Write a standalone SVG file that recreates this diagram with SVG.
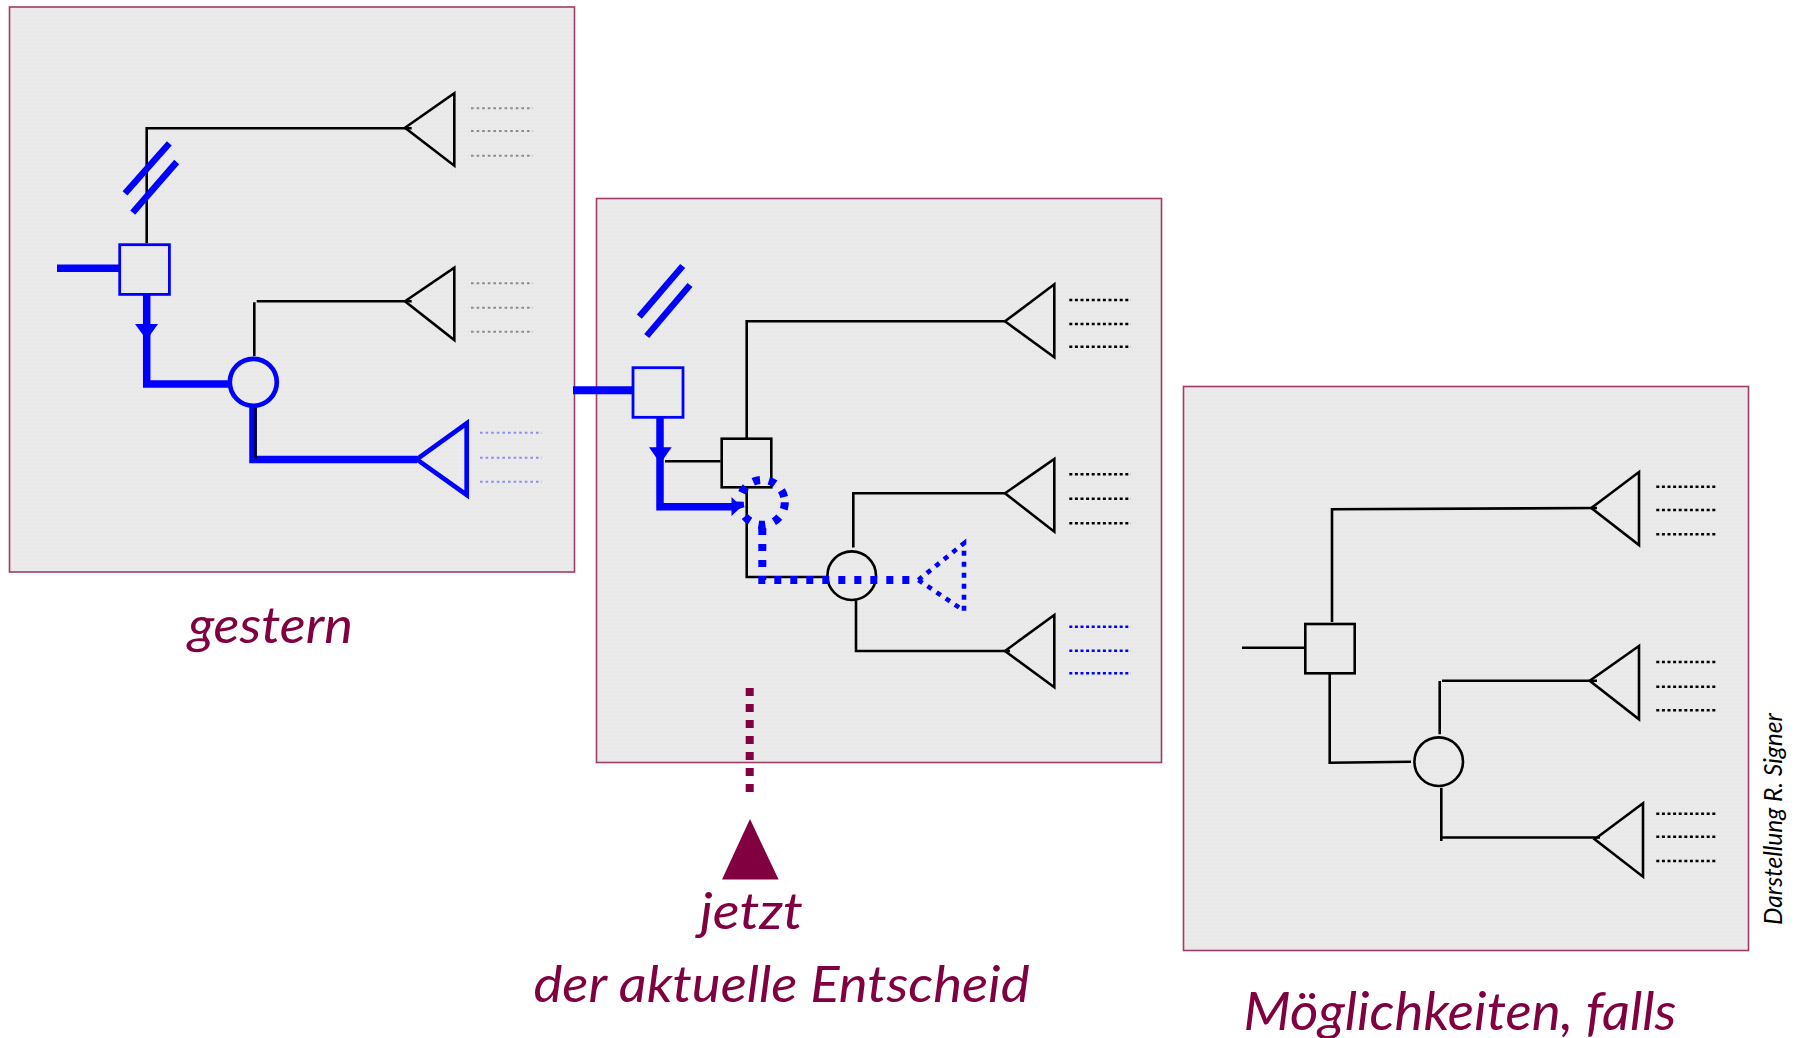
<svg xmlns="http://www.w3.org/2000/svg" width="1796" height="1038" viewBox="0 0 1796 1038">
<defs>
<pattern id="bg" width="4" height="4" patternUnits="userSpaceOnUse">
<rect width="4" height="4" fill="#e9e9e9"/>
<rect x="1" y="1" width="1" height="1" fill="#f2f2f2"/>
</pattern>
</defs>
<style>
.panel{fill:url(#bg);stroke:#a03c68;stroke-width:1.6}
.ln{fill:none;stroke:#000;stroke-width:2.6}
.tri{fill:none;stroke:#000;stroke-width:2.6;stroke-linejoin:miter}
.blk{fill:none;stroke:#000;stroke-width:2.6}
.bl{fill:none;stroke:#0000ff;stroke-width:7.5;stroke-linejoin:miter}
.blthin{fill:none;stroke:#0000ff;stroke-width:2.8}
.slash{stroke:#0000ff;stroke-width:6.5}
.dotg{stroke:#8a8a8a;stroke-width:2;stroke-dasharray:2.6 3}
.dotlb{stroke:#8c8cf0;stroke-width:2;stroke-dasharray:2.6 3}
.dotk{stroke:#000;stroke-width:2.6;stroke-dasharray:3 2.6}
.dotb{stroke:#0000ff;stroke-width:2.6;stroke-dasharray:3 2.6}
.bdash{fill:none;stroke:#0000ff;stroke-width:8;stroke-dasharray:7 9}
.bdash2{fill:none;stroke:#0000ff;stroke-width:4.6;stroke-dasharray:5 6}
.lbl{font-family:Lato,"Open Sans",sans-serif;font-style:italic;fill:#800040}
</style>

<!-- Panel 1: gestern -->
<g id="panel-gestern">
<rect class="panel" x="9.5" y="7" width="565" height="565"/>
<path class="ln" d="M146.7,243.3 V128.3 H411.7"/>
<path class="ln" d="M254.3,356 V302.3 M256.7,301.3 H411.7"/>
<polygon class="tri" points="405,127.7 454.3,93.3 454.3,165.7"/>
<polygon class="tri" points="405,301.3 454.3,267.7 454.3,340"/>
<g id="slash1">
<line class="slash" x1="125" y1="193.3" x2="169.3" y2="143.3"/>
<line class="slash" x1="132.7" y1="212.7" x2="176.7" y2="162"/>
</g>
<line class="bl" x1="57" y1="268.3" x2="120" y2="268.3"/>
<rect id="p1-decision" class="blthin" x="119.7" y="244.7" width="49.7" height="49.7"/>
<path class="bl" d="M146.7,294.4 V384 H230"/>
<polygon fill="#0000ff" points="135,324 158,324 146.6,340"/>
<circle id="p1-chance" cx="253.3" cy="382.3" r="23.5" fill="none" stroke="#0000ff" stroke-width="4.7"/>
<path class="bl" d="M253,406 V459.5 H417"/>
<line x1="255.6" y1="408" x2="255.6" y2="459" stroke="#000" stroke-width="2.4"/>
<polygon id="p1-end" fill="none" stroke="#0000ff" stroke-width="4.7" points="416.7,459.3 466.7,423.3 466.7,495"/>
<line class="dotg" x1="471" y1="108.3" x2="533" y2="108.3"/>
<line class="dotg" x1="471" y1="131" x2="533" y2="131"/>
<line class="dotg" x1="471" y1="155.7" x2="533" y2="155.7"/>
<line class="dotg" x1="471" y1="283.3" x2="533" y2="283.3"/>
<line class="dotg" x1="471" y1="307.7" x2="533" y2="307.7"/>
<line class="dotg" x1="471" y1="331.7" x2="533" y2="331.7"/>
<line class="dotlb" x1="480" y1="432.7" x2="542" y2="432.7"/>
<line class="dotlb" x1="480" y1="457.7" x2="542" y2="457.7"/>
<line class="dotlb" x1="480" y1="481.7" x2="542" y2="481.7"/>
</g>

<!-- Panel 2: jetzt -->
<g id="panel-jetzt">
<rect class="panel" x="596.5" y="198.5" width="565" height="564"/>
<g id="slash2">
<line class="slash" x1="639.3" y1="316.7" x2="682.7" y2="266"/>
<line class="slash" x1="646.7" y1="336" x2="690" y2="285"/>
</g>
<rect id="p2-decision-blue" class="blthin" x="633" y="367.7" width="50" height="49.6"/>
<path class="ln" d="M746.7,439 V321.3 H1005"/>
<line class="ln" x1="665" y1="461.3" x2="720.5" y2="461.3"/>
<rect id="p2-decision" class="blk" x="721.7" y="438.7" width="49.6" height="48.6"/>
<path class="ln" d="M746.7,487.3 V577 H827.5"/>
<circle id="p2-chance" class="blk" cx="851.7" cy="575.7" r="24.3"/>
<path class="ln" d="M853.3,547.5 V493.3 H1005"/>
<path class="ln" d="M856,600.5 V651 H1010"/>
<polygon class="tri" points="1005,321.3 1054.3,284.3 1054.3,357.3"/>
<polygon class="tri" points="1005,493.3 1054.3,459 1054.3,531.7"/>
<polygon class="tri" points="1005,651 1054.3,615 1054.3,687.3"/>
<path class="bl" d="M660,417.3 V506.7 H733"/>
<polygon fill="#0000ff" points="649,447.3 671.7,447.3 660.3,463.5"/>
<polygon fill="#0000ff" points="731.5,497 741.5,506.7 731.5,516"/>
<circle id="p2-chance-dotted" class="bdash" cx="762.3" cy="502.3" r="22.5" stroke-width="6.5"/>
<path class="bdash" d="M762.3,528 V580 H916"/>
<polygon id="p2-end-dotted" class="bdash2" points="918.3,580 964,543.3 964,610.7"/>
<line class="dotk" x1="1069.3" y1="300" x2="1131" y2="300"/>
<line class="dotk" x1="1069.3" y1="324" x2="1131" y2="324"/>
<line class="dotk" x1="1069.3" y1="346.7" x2="1131" y2="346.7"/>
<line class="dotk" x1="1069.3" y1="474.3" x2="1131" y2="474.3"/>
<line class="dotk" x1="1069.3" y1="498.7" x2="1131" y2="498.7"/>
<line class="dotk" x1="1069.3" y1="523.3" x2="1131" y2="523.3"/>
<line class="dotb" x1="1069.3" y1="626.7" x2="1131" y2="626.7"/>
<line class="dotb" x1="1069.3" y1="650.7" x2="1131" y2="650.7"/>
<line class="dotb" x1="1069.3" y1="673.3" x2="1131" y2="673.3"/>
</g>

<!-- Panel 3: Möglichkeiten -->
<g id="panel-moeglichkeiten">
<rect class="panel" x="1183.5" y="386.5" width="565" height="564"/>
<line class="ln" x1="1242" y1="647.7" x2="1305" y2="647.7"/>
<rect id="p3-decision" class="blk" x="1305.3" y="624" width="49.4" height="49.3"/>
<path class="ln" d="M1332,622 V509.3 L1597,508"/>
<path class="ln" d="M1329.7,673.3 V762.7 L1411,761.7"/>
<circle id="p3-chance" class="blk" cx="1438.7" cy="761.7" r="24.3"/>
<path class="ln" d="M1439.7,734.3 V681 M1442,680.7 H1597"/>
<path class="ln" d="M1441.3,787.7 V841 M1441.3,837.5 H1600"/>
<polygon class="tri" points="1591.3,508 1639,472 1639,545"/>
<polygon class="tri" points="1589.7,680.7 1639,646 1639,719.3"/>
<polygon class="tri" points="1594.7,839.3 1643,803.3 1643,876.7"/>
<line class="dotk" x1="1656.3" y1="486.7" x2="1717.5" y2="486.7"/>
<line class="dotk" x1="1656.3" y1="510" x2="1717.5" y2="510"/>
<line class="dotk" x1="1656.3" y1="534.3" x2="1717.5" y2="534.3"/>
<line class="dotk" x1="1656.3" y1="662" x2="1717.5" y2="662"/>
<line class="dotk" x1="1656.3" y1="686.7" x2="1717.5" y2="686.7"/>
<line class="dotk" x1="1656.3" y1="710.3" x2="1717.5" y2="710.3"/>
<line class="dotk" x1="1656.3" y1="813.7" x2="1717.5" y2="813.7"/>
<line class="dotk" x1="1656.3" y1="836.7" x2="1717.5" y2="836.7"/>
<line class="dotk" x1="1656.3" y1="861" x2="1717.5" y2="861"/>
</g>

<!-- Connectors -->
<g id="connectors">
<line id="c-gestern-jetzt" x1="573" y1="390.3" x2="633" y2="390.3" stroke="#0000ff" stroke-width="8"/>
<line id="c-now-marker" x1="749.7" y1="688" x2="749.7" y2="792" stroke="#800040" stroke-width="8" stroke-dasharray="8 8"/>
</g>

<g id="now-marker">
<polygon fill="#800040" points="722,879.6 778.6,879.6 750,819"/>
</g>

<!-- Labels -->
<g id="labels">
<text class="lbl" x="188" y="643" font-size="51" textLength="165" lengthAdjust="spacingAndGlyphs">gestern</text>
<text class="lbl" x="700" y="929" font-size="51" textLength="103" lengthAdjust="spacingAndGlyphs">jetzt</text>
<text class="lbl" x="533.5" y="1001.7" font-size="51" textLength="496" lengthAdjust="spacingAndGlyphs">der aktuelle Entscheid</text>
<text class="lbl" x="1243.5" y="1030" font-size="53" textLength="433" lengthAdjust="spacingAndGlyphs">Möglichkeiten, falls</text>
<text transform="translate(1781.5,925) rotate(-90)" x="0" y="0" font-family="Lato,'Open Sans',sans-serif" font-style="italic" font-size="25" fill="#000" textLength="212" lengthAdjust="spacingAndGlyphs">Darstellung R. Signer</text>
</g>
</svg>
